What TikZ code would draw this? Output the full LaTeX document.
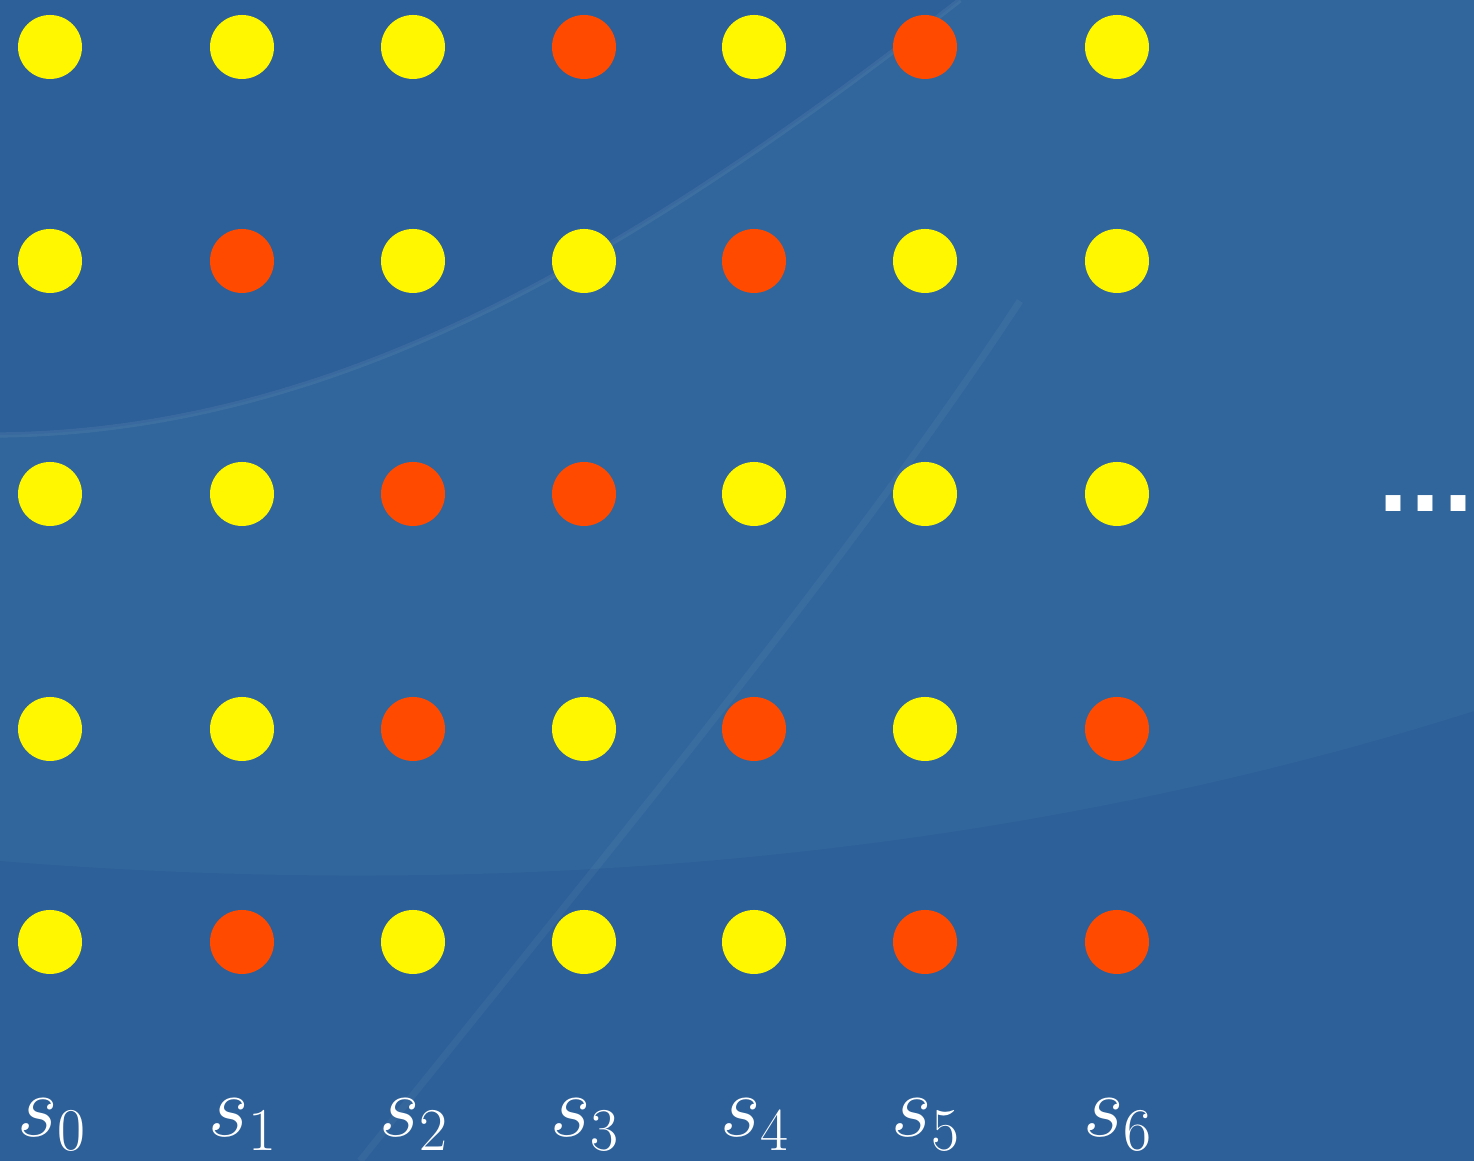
\documentclass[tikz,border=0pt]{standalone}
\usepackage{tikz}
\usepackage{amsmath}
\usepackage{xcolor}
\usepackage{fontspec}
\newfontfamily\dotsfont{DejaVu Sans}
\usetikzlibrary{positioning,calc}
\definecolor{bgblue}{HTML}{2D6098}
\definecolor{bglight}{HTML}{3A72A6}
\definecolor{yel}{HTML}{FFF700}
\definecolor{org}{HTML}{FF4A00}

\begin{document}
\begin{tikzpicture}[
    dot/.style={circle,inner sep=0pt,minimum size=0.64cm},
    lbl/.style={anchor=base,text=white,font=\fontsize{23}{28}\selectfont},
    more/.style={anchor=base,inner sep=0pt,text=white,font=\fontsize{24}{28}\selectfont\dotsfont\bfseries}]
    \useasboundingbox (0,0) rectangle (14.74,11.61);
    \clip (0,0) rectangle (14.74,11.61);
    % background with soft swooshes
    \fill[bgblue] (0,0) rectangle (14.74,11.61);
    \fill[bglight,opacity=0.35] (0,7.26) .. controls (3.5,7.3) and (6.5,9.2) .. (9.6,11.61)
        -- (14.74,11.61) -- (14.74,4.5) .. controls (10,3.0) and (5,2.6) .. (0,3.0) -- cycle;
    \draw[white,opacity=0.06,line width=1.5pt] (0,7.26) .. controls (3.5,7.3) and (6.5,9.2) .. (9.6,11.61);
    \draw[white,opacity=0.04,line width=2pt] (3.6,0) .. controls (6,3) and (8.5,6) .. (10.2,8.6);

    % grid of dots, one row at a time (top to bottom)
    \foreach \r/\y/\cols in {1/11.14/{yel,yel,yel,org,yel,org,yel},
                             2/9.00/{yel,org,yel,yel,org,yel,yel},
                             3/6.67/{yel,yel,org,org,yel,yel,yel},
                             4/4.32/{yel,yel,org,yel,org,yel,org},
                             5/2.19/{yel,org,yel,yel,yel,org,org}} {
        \foreach \c [count=\i from 0] in \cols {
            \pgfmathsetmacro\xx{{0.50,2.42,4.13,5.84,7.54,9.25,11.17}[\i]}
            \node[dot,fill=\c] (d\r\i) at (\xx,\y) {};
        }
    }

    % state labels
    \foreach \xx [count=\i from 0] in {0.52,2.43,4.14,5.85,7.55,9.26,11.18} {
        \node[lbl] (s\i) at (\xx,0.24) {$s_{\i}$};
    }

    % more states
    \node[more] (etc) at (14.26,6.49) {...};
\end{tikzpicture}
\end{document}
